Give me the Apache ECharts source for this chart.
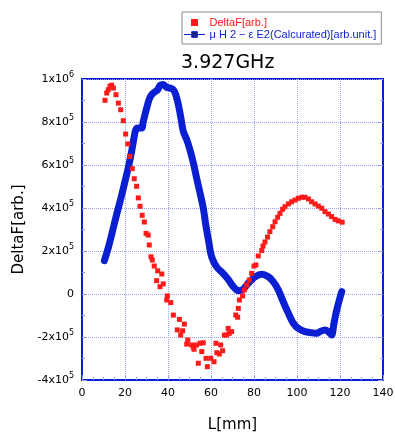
<!DOCTYPE html>
<html>
<head>
<meta charset="utf-8">
<script src="https://cdn.jsdelivr.net/npm/echarts@6/dist/echarts.min.js"></script>
<style>
  html, body { margin: 0; padding: 0; background: #fff; }
  #chart { width: 395px; height: 432px; }
</style>
</head>
<body>
<div id="chart"></div>
<script>
// measured DeltaF (red squares)
const deltaFL = [10.7, 11.5, 12.2, 13.0, 13.8, 14.6, 15.8, 16.9, 18.0, 19.2, 20.3, 21.3, 22.3, 23.4, 24.3, 25.4, 26.2, 27.0, 28.0, 29.0,
  29.8, 30.8, 31.3, 32.1, 32.7, 33.6, 35.2, 37.1, 34.7, 36.3, 37.8, 39.7, 39.4, 41.3, 42.5, 45.3, 47.6, 44.3, 46.8, 45.9,
  49.2, 48.7, 51.0, 52.1, 53.3, 54.9, 56.4, 51.8, 55.7, 54.1, 57.7, 58.3, 59.9, 61.4, 62.7, 62.3, 64.5, 65.4, 63.9, 66.2,
  67.3, 68.5, 68.0, 69.6, 71.5, 72.4, 72.7, 73.2, 74.7, 75.5, 76.6, 77.8, 78.9, 80.0, 80.9, 82.0, 83.6, 84.2, 85.1, 86.3,
  87.4, 88.7, 89.8, 91.0, 92.1, 93.3, 94.4, 96.0, 97.5, 99.1, 100.6, 102.2, 103.7, 105.3, 106.8, 108.4, 109.9, 111.5, 113.0, 114.6,
  116.1, 117.7, 119.2, 121.0];
const deltaF = [901000, 935000, 950000, 966000, 971000, 958000, 927000, 888000, 857000, 806000, 744000, 698000, 640000, 583000, 536000, 501000, 447000, 408000, 366000, 335000,
  282000, 274000, 228000, 173000, 158000, 130000, 108000, 93000, 62000, 34000, 47000, -9000, -28000, -40000, -98000, -118000, -140000, -167000, -171000, -191000,
  -214000, -233000, -237000, -257000, -237000, -229000, -227000, -248000, -268000, -322000, -299000, -338000, -299000, -315000, -273000, -229000, -237000, -264000, -279000, -191000,
  -191000, -183000, -160000, -175000, -98000, -108000, -67000, -28000, -9000, 19000, 42000, 65000, 96000, 130000, 135000, 177000, 202000, 223000, 242000, 265000,
  290000, 313000, 336000, 357000, 375000, 394000, 406000, 419000, 429000, 437000, 445000, 450000, 450000, 442000, 429000, 419000, 409000, 399000, 383000, 372000,
  360000, 347000, 340000, 334000];

// calculated curve (blue line)
const calcL = [10.4, 12.2, 13.8, 15.3, 16.9, 18.5, 20.0, 21.5, 23.1, 24.3, 25.0, 25.9, 27.8, 28.5, 29.3, 30.1, 31.2, 32.4, 33.9, 35.2,
  36.3, 37.8, 39.4, 40.9, 42.5, 43.6, 44.8, 46.0, 47.1, 48.7, 50.2, 51.8, 53.3, 54.9, 56.4, 57.6, 59.0, 60.3, 62.7, 65.7,
  68.0, 70.4, 72.7, 75.0, 77.3, 80.5, 83.6, 86.7, 89.0, 91.3, 93.6, 96.0, 98.3, 100.6, 103.7, 106.8, 109.2, 110.7, 113.0, 114.6,
  116.1, 117.2, 118.5, 119.7, 120.8];
const calcVal = [155000, 214000, 276000, 338000, 400000, 462000, 524000, 586000, 664000, 733000, 764000, 772000, 772000, 803000, 834000, 865000, 904000, 927000, 940000, 950000,
  971000, 974000, 961000, 958000, 950000, 927000, 881000, 819000, 757000, 718000, 671000, 609000, 540000, 470000, 400000, 320000, 240000, 173000, 125000, 95000,
  68000, 34000, 15000, 22000, 50000, 80000, 92000, 80000, 57000, 19000, -36000, -90000, -136000, -160000, -175000, -180000, -183000, -175000, -167000, -175000,
  -191000, -136000, -74000, -28000, 11000];

const title = '3.927GHz';
const nameDeltaF = 'DeltaF[arb.]';
const nameCalc = 'μ H 2 − ε E2(Calcurated)[arb.unit.]';

const blue = '#0a1ed2';
const red = '#ff1a1a';
const gridColor = '#9aa0f0';
const font = 'DejaVu Sans';

const chart = echarts.init(document.getElementById('chart'));

const yLabel = (v) => {
  if (v === 0) return '0';
  const exp = Math.floor(Math.log10(Math.abs(v)) + 1e-9);
  const m = Math.round(v / Math.pow(10, exp));
  return m + 'x10{sup|' + exp + '}';
};

chart.setOption({
  animation: false,
  textStyle: { fontFamily: font },
  title: {
    text: title,
    left: 176,
    top: 49,
    textStyle: { fontSize: 19, fontWeight: 'normal', color: '#000', fontFamily: font }
  },
  legend: {
    orient: 'vertical',
    left: 182,
    top: 12,
    padding: [5, 5, 4, 2],
    itemGap: 1,
    itemWidth: 20,
    itemHeight: 7,
    symbolKeepAspect: true,
    backgroundColor: '#fff',
    borderColor: '#888',
    borderWidth: 1,
    textStyle: { fontSize: 11, fontFamily: 'Liberation Sans' },
    data: [
      { name: nameDeltaF, icon: 'path://M0,0L1,0L1,1L0,1Z', textStyle: { color: red } },
      {
        name: nameCalc,
        textStyle: { color: blue },
        lineStyle: { width: 1 },
        itemStyle: { color: '#1a237e', borderColor: blue, borderWidth: 1 }
      }
    ]
  },
  grid: {
    left: 82, right: 12, top: 79, bottom: 52,
    outerBoundsMode: 'none',
    show: true, borderColor: blue, borderWidth: 2
  },
  xAxis: {
    type: 'value',
    min: 0, max: 140, interval: 20,
    name: 'L[mm]',
    nameLocation: 'middle',
    nameGap: 38,
    nameTextStyle: { fontSize: 15, color: '#000', fontFamily: font },
    axisLine: { onZero: false, lineStyle: { color: blue, width: 2 } },
    axisTick: { inside: true, length: 5, lineStyle: { color: gridColor } },
    minorTick: { show: true, splitNumber: 4, length: 3, lineStyle: { color: gridColor } },
    axisLabel: { fontSize: 11, color: '#000', margin: 8 },
    splitLine: { show: true, lineStyle: { color: gridColor, type: 'dotted', width: 1 } }
  },
  yAxis: [{
    type: 'value',
    min: -400000, max: 1000000, interval: 200000,
    name: 'DeltaF[arb.]',
    nameLocation: 'middle',
    nameGap: 55,
    nameTextStyle: { fontSize: 15, color: '#000', fontFamily: font },
    axisLine: { onZero: false, lineStyle: { color: blue, width: 2 } },
    axisTick: { inside: true, length: 5, lineStyle: { color: gridColor } },
    minorTick: { show: true, splitNumber: 2, length: 3, lineStyle: { color: gridColor } },
    axisLabel: {
      fontSize: 11, color: '#000', margin: 8,
      formatter: yLabel,
      rich: { sup: { fontSize: 8, padding: [0, 0, 8, 0], color: '#000' } }
    },
    splitLine: { show: true, lineStyle: { color: gridColor, type: 'dotted', width: 1 } }
  }, {
    type: 'value',
    position: 'right',
    min: -400000, max: 1000000, interval: 200000,
    axisLine: { show: true, onZero: false, lineStyle: { color: blue, width: 2 } },
    axisTick: { show: true, inside: true, length: 5, lineStyle: { color: gridColor } },
    minorTick: { show: true, splitNumber: 2, length: 3, lineStyle: { color: gridColor } },
    axisLabel: { show: false },
    splitLine: { show: false }
  }],
  series: [
    {
      name: nameDeltaF,
      type: 'scatter',
      symbol: 'rect',
      symbolSize: 5,
      itemStyle: { color: red, opacity: 1 },
      data: deltaFL.map((x, i) => [x, deltaF[i]]),
      z: 3
    },
    {
      name: nameCalc,
      type: 'line',
      symbol: 'rect',
      symbolSize: 6,
      showSymbol: false,
      smooth: 0.3,
      itemStyle: { color: blue, borderColor: blue },
      lineStyle: { color: blue, width: 7, cap: 'round', join: 'round' },
      data: calcL.map((x, i) => [x, calcVal[i]]),
      z: 2
    }
  ]
});
</script>
</body>
</html>
